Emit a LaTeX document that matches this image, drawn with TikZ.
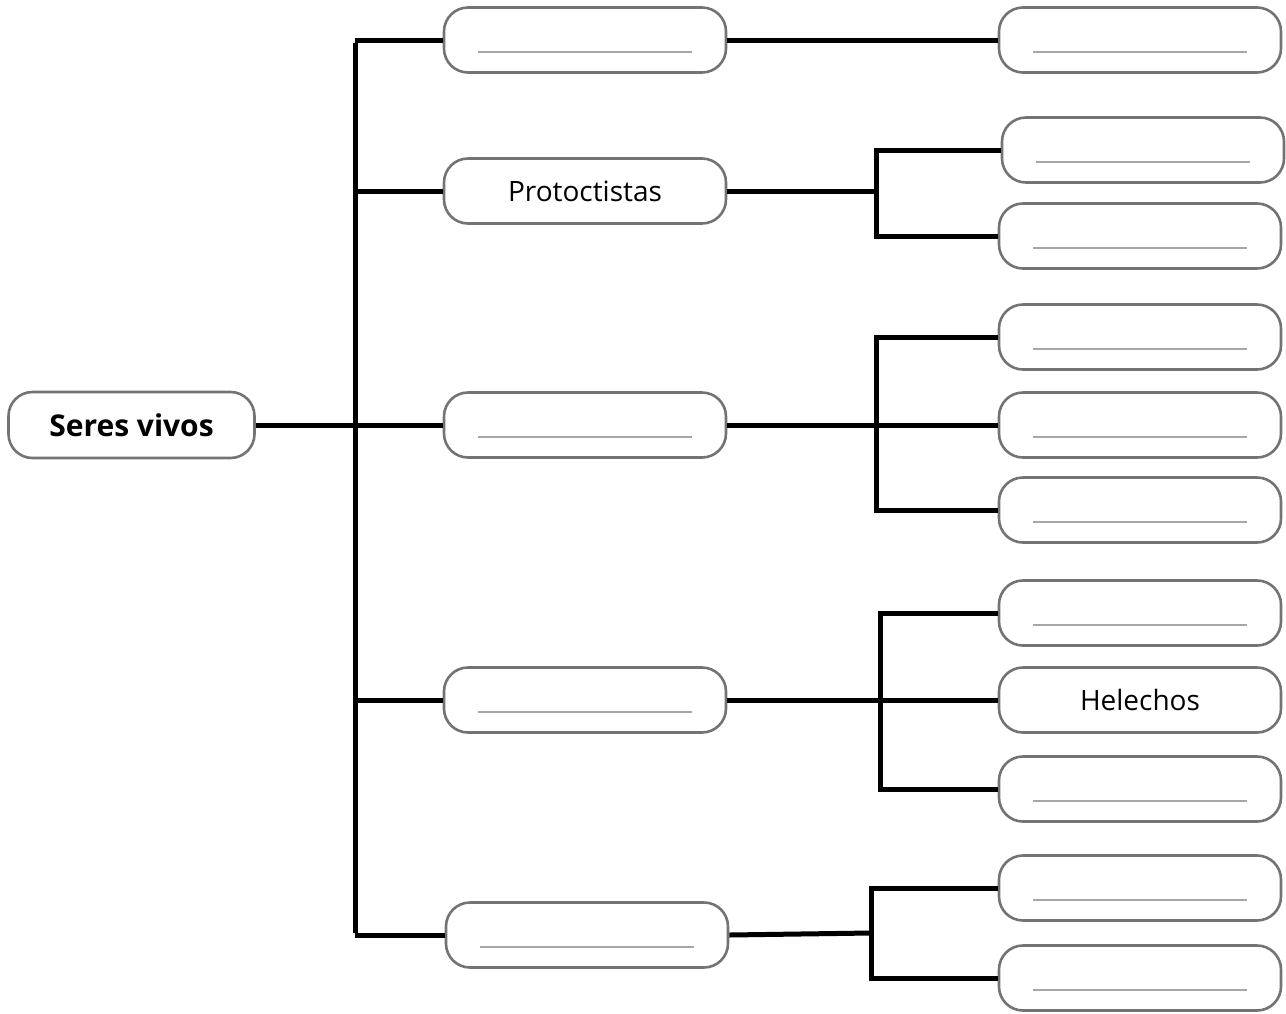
\documentclass[tikz,border=0pt]{standalone}
\usepackage{fontspec}
\setmainfont{Open Sans}
\begin{document}
\begin{tikzpicture}[x=1pt,y=-1pt,
  box/.style={draw=black!55,line width=2.6pt,rounded corners=24pt,fill=white,
    minimum width=282pt,minimum height=65pt,inner sep=0pt,font=\fontsize{28}{32}\selectfont},
  blank/.style={box,path picture={\draw[black!35,line width=1.6pt]
    ([xshift=34pt,yshift=-12pt]path picture bounding box.west) --
    ([xshift=-34pt,yshift=-12pt]path picture bounding box.east);}},
  conn/.style={line width=5pt,black,line cap=rect}]
\useasboundingbox (0,0) rectangle (1286,1013);
% root
\node[box,minimum width=246pt,minimum height=66pt,font=\fontsize{30}{34}\selectfont\bfseries] (sv) at (131.5,425) {Seres vivos};
% level 1
\node[blank] (a1) at (585,40) {};
\node[box] (a2) at (585,191) {Protoctistas};
\node[blank] (a3) at (585,425) {};
\node[blank] (a4) at (585,700) {};
\node[blank] (a5) at (587,935) {};
% level 2
\node[blank] (r1) at (1140,40) {};
\node[blank] (r2a) at (1143,150) {};
\node[blank] (r2b) at (1140,236) {};
\node[blank] (r3a) at (1140,337) {};
\node[blank] (r3b) at (1140,425) {};
\node[blank] (r3c) at (1140,510) {};
\node[blank] (r4a) at (1140,613) {};
\node[box] (r4b) at (1140,700) {Helechos};
\node[blank] (r4c) at (1140,789) {};
\node[blank] (r5a) at (1140,888) {};
\node[blank] (r5b) at (1140,978) {};
% spine
\coordinate (sT) at (355,40);
\coordinate (sB) at (355,935);
\draw[conn,line cap=butt] ([yshift=-2.5pt]sT) -- ([yshift=2.5pt]sB);
\draw[conn,line cap=butt] (sv.east) -- (a3.west);
\foreach \n in {a1,a2,a4,a5}{
  \draw[conn,line cap=butt] (\n.west -| sT) -- (\n.west);
}
% level-1 to level-2
\draw[conn,line cap=butt] (a1.east) -- (r1.west);
% junction 2
\coordinate (j2) at (876,191);
\draw[conn,line cap=butt] (a2.east) -- (j2);
\draw[conn] (r2a.west -| j2) -- (r2b.west -| j2);
\draw[conn,line cap=butt] (r2a.west -| j2) -- (r2a.west);
\draw[conn,line cap=butt] (r2b.west -| j2) -- (r2b.west);
% junction 3
\coordinate (j3) at (876,425);
\draw[conn,line cap=butt] (a3.east) -- (r3b.west);
\draw[conn] (r3a.west -| j3) -- (r3c.west -| j3);
\draw[conn,line cap=butt] (r3a.west -| j3) -- (r3a.west);
\draw[conn,line cap=butt] (r3c.west -| j3) -- (r3c.west);
% junction 4
\coordinate (j4) at (880,700);
\draw[conn,line cap=butt] (a4.east) -- (r4b.west);
\draw[conn] (r4a.west -| j4) -- (r4c.west -| j4);
\draw[conn,line cap=butt] (r4a.west -| j4) -- (r4a.west);
\draw[conn,line cap=butt] (r4c.west -| j4) -- (r4c.west);
% junction 5
\coordinate (j5) at (871,933);
\draw[conn,line cap=butt] (a5.east) -- (j5);
\draw[conn] (r5a.west -| j5) -- (r5b.west -| j5);
\draw[conn,line cap=butt] (r5a.west -| j5) -- (r5a.west);
\draw[conn,line cap=butt] (r5b.west -| j5) -- (r5b.west);
\end{tikzpicture}
\end{document}
